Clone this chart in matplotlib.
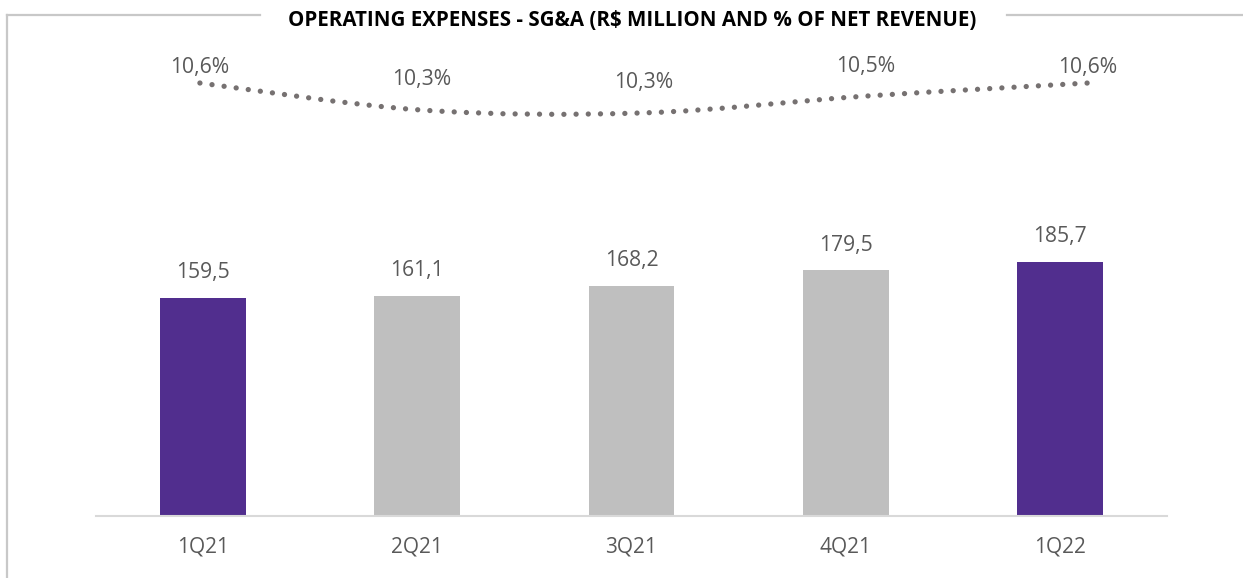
import numpy as np
import matplotlib.pyplot as plt
from matplotlib.lines import Line2D
from matplotlib.path import Path
from matplotlib.patches import PathPatch

plt.rcParams['font.family'] = ['Open Sans', 'DejaVu Sans']

# data
quarters = ["1Q21", "2Q21", "3Q21", "4Q21", "1Q22"]
sga = [159.5, 161.1, 168.2, 179.5, 185.7]
pct_net_revenue = [10.60, 10.31, 10.28, 10.46, 10.60]
highlight = [True, False, False, False, True]

PURPLE = "#512E8E"
GREY_BAR = "#BFBFBF"
TEXT = "#595959"
LINE = "#767171"
FRAME = "#C8C8C8"

W, H = 1243, 578
fig = plt.figure(figsize=(W / 100, H / 100), dpi=100)


def px_box(left, top, right, bottom):
    """pixel box -> figure fraction [l, b, w, h]"""
    return [left / W, 1 - bottom / H, (right - left) / W, (bottom - top) / H]


# bars
ax = fig.add_axes(px_box(96, 40, 1167, 516))
x = np.arange(len(quarters))
colors = [PURPLE if h else GREY_BAR for h in highlight]
bars = ax.bar(x, sga, width=0.40, color=colors, zorder=2)
ax.set_xlim(-0.5, len(quarters) - 0.5)
ax.set_ylim(0, 348)
for rect, v in zip(bars, sga):
    ax.annotate(f"{v:.1f}".replace(".", ","),
                (rect.get_x() + rect.get_width() / 2, rect.get_height()),
                xytext=(0, 18), textcoords="offset points",
                ha="center", va="center", fontsize=15.2, color=TEXT)
ax.set_xticks(x)
ax.set_xticklabels(quarters, fontsize=15, color=TEXT)
ax.tick_params(axis="x", length=0, pad=15)
ax.set_yticks([])
for s in ["top", "right", "left"]:
    ax.spines[s].set_visible(False)
ax.spines["bottom"].set_color("#D9D9D9")
ax.spines["bottom"].set_linewidth(1.5)

# % of net revenue line (own axes, Excel-style smoothed)
ax2 = fig.add_axes(px_box(96, 40, 1167, 516), facecolor="none")
ax2.set_xlim(-0.468, 4.356)
ax2.set_ylim(5.959, 11.061)
ax2.axis("off")

xs = np.arange(len(pct_net_revenue), dtype=float)
ys = np.array(pct_net_revenue)
verts = [(xs[0], ys[0])]
codes = [Path.MOVETO]
t = 1 / 6
for i in range(len(xs) - 1):
    p0 = np.array([xs[max(i - 1, 0)], ys[max(i - 1, 0)]])
    p1 = np.array([xs[i], ys[i]])
    p2 = np.array([xs[i + 1], ys[i + 1]])
    p3 = np.array([xs[min(i + 2, len(xs) - 1)], ys[min(i + 2, len(xs) - 1)]])
    c1 = p1 + (p2 - p0) * t
    c2 = p2 - (p3 - p1) * t
    verts += [tuple(c1), tuple(c2), tuple(p2)]
    codes += [Path.CURVE4] * 3
curve = PathPatch(Path(verts, codes), facecolor="none", edgecolor=LINE,
                  linewidth=3.8, linestyle=(0, (0.01, 2.3)), capstyle="round",
                  zorder=3)
ax2.add_patch(curve)

label_offsets = [11, 22, 22, 21, 11]
for xi, v, off in zip(xs, pct_net_revenue, label_offsets):
    ax2.annotate(f"{v:.1f}%".replace(".", ","), (xi, v),
                 xytext=(0, off), textcoords="offset points",
                 ha="center", va="center", fontsize=15.2, color=TEXT)

# frame lines and title
fig.add_artist(Line2D([7 / W, 7 / W], [0, 1 - 15 / H], color=FRAME, lw=1.6))
fig.add_artist(Line2D([7 / W, 260 / W], [1 - 15 / H, 1 - 15 / H], color=FRAME, lw=1.6))
fig.add_artist(Line2D([1007 / W, 1], [1 - 15 / H, 1 - 15 / H], color=FRAME, lw=1.6))
fig.text(632 / W, 1 - 20 / H,
         "OPERATING EXPENSES - SG&A (R$ MILLION AND % OF NET REVENUE)",
         ha="center", va="center", fontsize=14.8, fontweight="bold", color="black")

fig.savefig("out.png", dpi=100)
